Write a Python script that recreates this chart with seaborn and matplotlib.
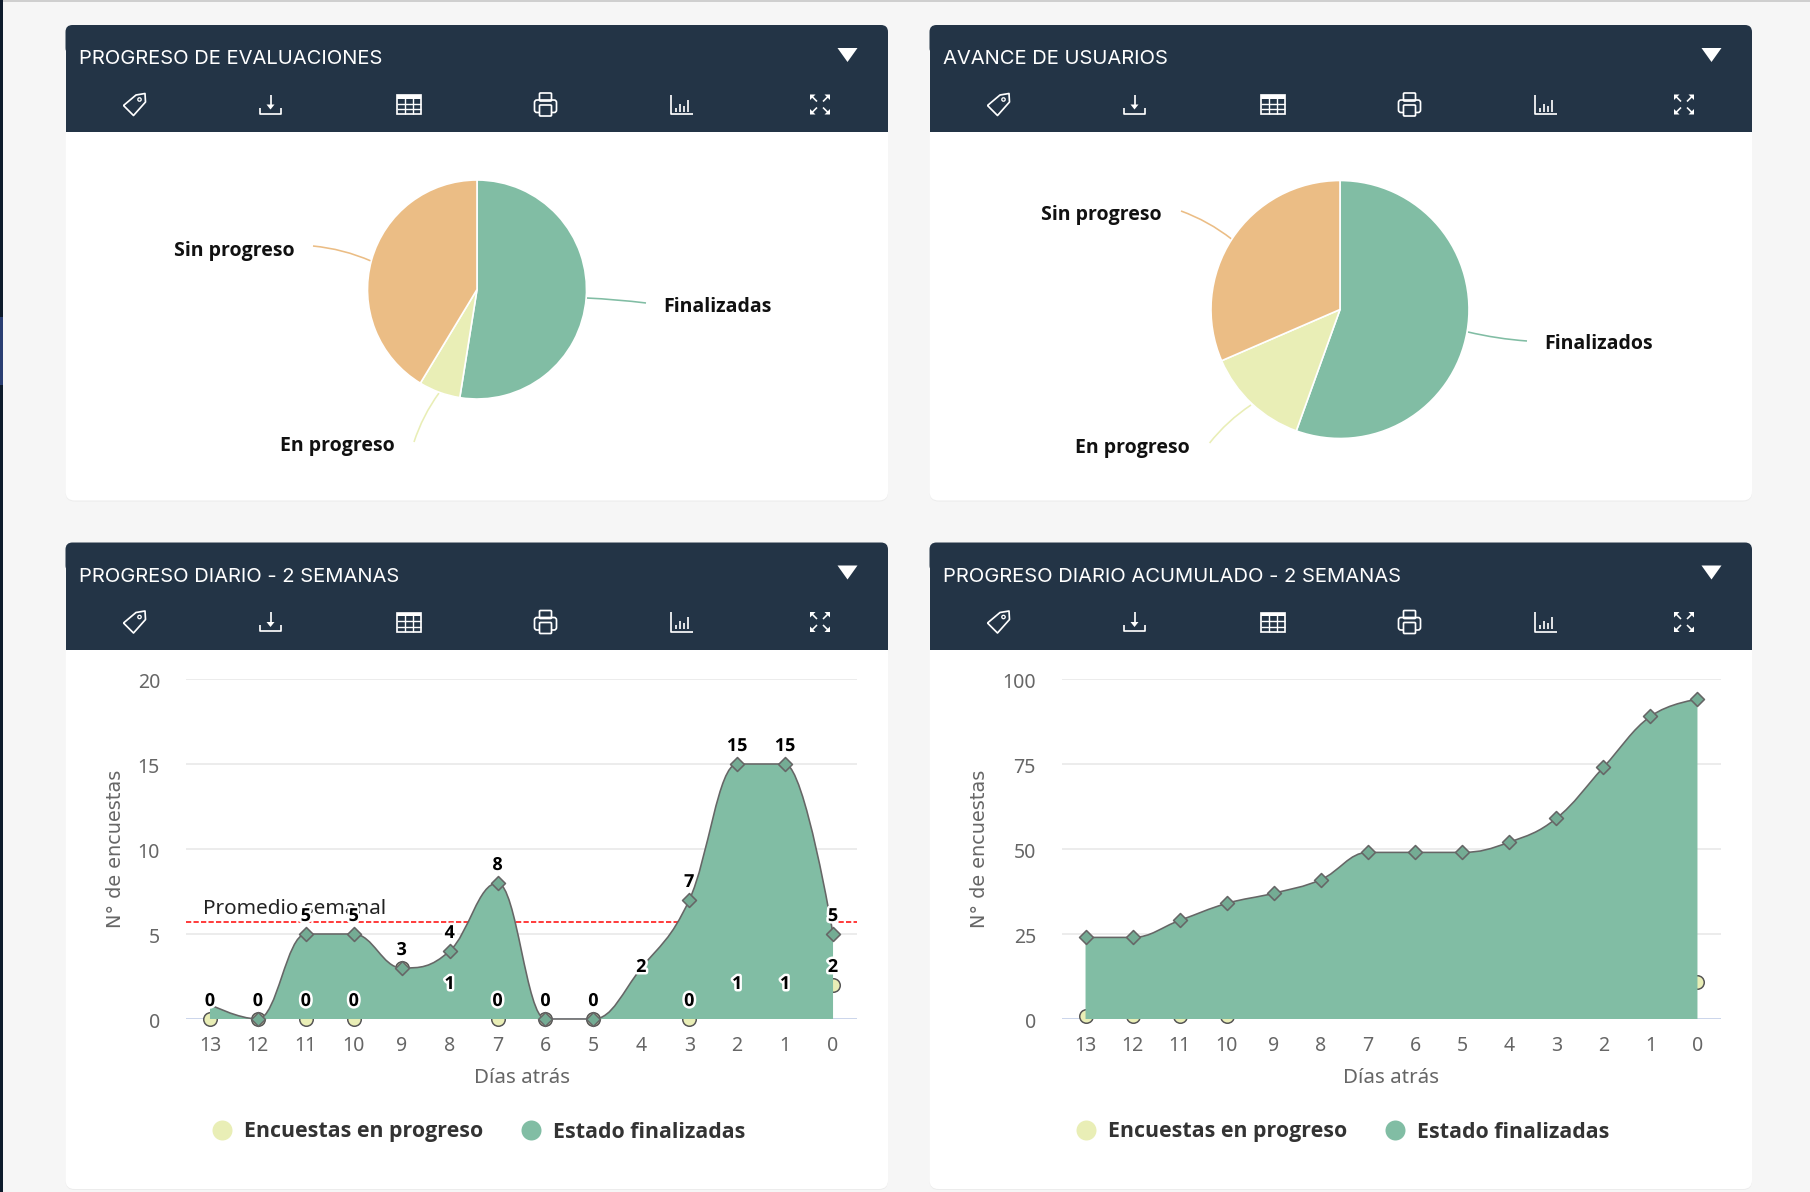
import matplotlib
matplotlib.use('Agg')
import matplotlib.pyplot as plt
from matplotlib.patches import FancyBboxPatch, Rectangle, Polygon, Circle, PathPatch
from matplotlib.path import Path
from matplotlib.lines import Line2D
from matplotlib.transforms import ScaledTranslation
import matplotlib.patheffects as pe
import numpy as np
import pandas as pd
import seaborn as sns

W, H = 1810, 1192
GREEN = '#81BDA4'
TAN = '#EBBD85'
PALE = '#E9EEB6'
NAVY = '#233446'
MARKER_GREEN = '#74AC94'
EDGE = '#666666'
BODY = 'Noto Sans'
BOLD = 'Open Sans'

# pies
pie1_labels = ['Finalizadas', 'En progreso', 'Sin progreso']
pie1_values = [94, 11, 74]
pie2_labels = ['Finalizados', 'En progreso', 'Sin progreso']
pie2_values = [111, 26, 63]

# line charts
days = ['13', '12', '11', '10', '9', '8', '7', '6', '5', '4', '3', '2', '1', '0']
daily_done = [0.85, 0, 5, 5, 3, 4, 8, 0, 0, 3, 7, 15, 15, 5]
daily_progress = [0, 0, 0, 0, 3, 1, 0, 0, 0, 2, 0, 1, 1, 2]
daily_done_labels = ['', '0', '5', '5', '3', '4', '8', '0', '0', '', '7', '15', '15', '5']
daily_progress_labels = ['0', '', '0', '0', '', '1', '0', '', '', '2', '0', '1', '1', '2']
daily_hidden = [0, 9]
cumul_done = [24, 24, 29, 34, 37, 41, 49, 49, 49, 52, 59, 74, 89, 94]
cumul_progress = [1, 1, 1, 1, 4, 5, 5, 5, 5, 7, 7, 8, 9, 11]
weekly_avg = 5.7

sns.set_theme(style='white')
plt.rcParams['font.family'] = [BODY, 'DejaVu Sans']

fig = plt.figure(figsize=(W / 100, H / 100), dpi=100, facecolor='#F6F6F6')


def px(v):
    return v * 0.72


def axes_px(x0, y0, x1, y1, **kw):
    return fig.add_axes([x0 / W, 1 - y1 / H, (x1 - x0) / W, (y1 - y0) / H], **kw)


bg = axes_px(0, 0, W, H)
bg.set_xlim(0, W)
bg.set_ylim(H, 0)
bg.axis('off')
bg.set_zorder(0)

# page edges
bg.add_patch(Rectangle((0, 0), W, 1.5, fc='#cfcfcf', ec='none'))
bg.add_patch(Rectangle((0, 0), 3, H, fc='#0E1B2C', ec='none'))
bg.add_patch(Rectangle((0, 317), 3, 68, fc='#2B3F73', ec='none'))


def stroke(pts, lw=1.7, color='white', closed=False):
    if closed:
        pts = list(pts) + [pts[0]]
    xs, ys = zip(*pts)
    bg.plot(xs, ys, color=color, lw=px(lw), solid_joinstyle='round', solid_capstyle='butt', zorder=4)


def box(x, y, w, h, r=0.0, fc='none', lw=1.7, ec='white'):
    bg.add_patch(FancyBboxPatch((x, y), w, h, boxstyle='round,pad=0,rounding_size=%s' % r,
                                fc=fc, ec=ec, lw=px(lw), zorder=4))


def tag_icon(cx, cy):
    pts = [(-11, 1), (1.5, -9.5), (10.5, -11), (11, -2.5), (-1, 11)]
    stroke([(cx + a, cy + b) for a, b in pts], closed=True)
    bg.add_patch(Circle((cx + 5, cy - 5), 1.7, fc='none', ec='white', lw=px(1.3), zorder=4))


def download_icon(cx, cy):
    stroke([(cx, cy - 10), (cx, cy + 2)])
    bg.add_patch(Polygon([(cx - 4, cy), (cx + 4, cy), (cx, cy + 5)], fc='white', ec='none', zorder=4))
    stroke([(cx - 10.5, cy + 3), (cx - 10.5, cy + 9), (cx + 10.5, cy + 9), (cx + 10.5, cy + 3)])


def table_icon(cx, cy):
    bg.add_patch(Rectangle((cx - 12, cy - 9.5), 24, 19, fc='none', ec='white', lw=px(1.7), zorder=4))
    bg.add_patch(Rectangle((cx - 12, cy - 9.5), 24, 3.5, fc='white', ec='none', zorder=4))
    for dx in (-4, 4):
        stroke([(cx + dx, cy - 9.5), (cx + dx, cy + 9.5)], lw=1.4)
    for dy in (-1, 4.5):
        stroke([(cx - 12, cy + dy), (cx + 12, cy + dy)], lw=1.4)


def printer_icon(cx, cy):
    box(cx - 6, cy - 11.5, 12, 8, r=1)
    box(cx - 11, cy - 4.5, 22, 12.5, r=2.5)
    box(cx - 6, cy + 0.5, 12, 11, r=1, fc=NAVY)


def chart_icon(cx, cy):
    stroke([(cx - 10.5, cy - 10), (cx - 10.5, cy + 9.5), (cx + 11, cy + 9.5)])
    for dx, top in zip((-6, -2, 2, 6.5), (3, -1, 1, -5)):
        stroke([(cx + dx, cy + 7), (cx + dx, cy + top)], lw=1.7)


def expand_icon(cx, cy):
    for sx in (-1, 1):
        for sy in (-1, 1):
            stroke([(cx + sx * 3, cy + sy * 3), (cx + sx * 9, cy + sy * 9)], lw=1.6)
            bg.add_patch(Polygon([(cx + sx * 10, cy + sy * 10), (cx + sx * 4.5, cy + sy * 10),
                                  (cx + sx * 10, cy + sy * 4.5)], fc='white', ec='none', zorder=4))


def panel(x0, y0, x1, y1, head_y1, title):
    bg.add_patch(FancyBboxPatch((x0, y0 + 1), x1 - x0, y1 - y0, boxstyle='round,pad=0,rounding_size=9',
                                fc='#ECECEC', ec='none', zorder=1))
    bg.add_patch(FancyBboxPatch((x0, y0), x1 - x0, y1 - y0, boxstyle='round,pad=0,rounding_size=9',
                                fc='white', ec='none', zorder=1))
    bg.add_patch(FancyBboxPatch((x0, y0), x1 - x0, 30, boxstyle='round,pad=0,rounding_size=7',
                                fc=NAVY, ec='none', zorder=2))
    bg.add_patch(Rectangle((x0, y0 + 14), x1 - x0, head_y1 - y0 - 14, fc=NAVY, ec='none', zorder=2))
    bg.text(x0 + 13.5, y0 + 34, title, color='white', fontsize=px(20.2), family='Inter',
            va='center', ha='left', zorder=4)
    bg.add_patch(Polygon([(x0 + 772, y0 + 23), (x0 + 792, y0 + 23), (x0 + 782, y0 + 37)],
                         fc='white', ec='none', zorder=4))
    icons = [tag_icon, download_icon, table_icon, printer_icon, chart_icon, expand_icon]
    for icon, dx in zip(icons, (69, 205, 343.5, 480, 616, 754.5)):
        icon(x0 + dx, y0 + 79.5)


def draw_pie(cx, cy, r, values):
    ax = axes_px(cx - r, cy - r, cx + r, cy + r)
    ax.set_zorder(2)
    colors = [GREEN, PALE, TAN]
    ax.pie(values, colors=colors, startangle=90, counterclock=False, radius=1,
           wedgeprops={'edgecolor': 'white', 'linewidth': 1.2}, frame=True)
    ax.set_xlim(-1, 1)
    ax.set_ylim(-1, 1)
    ax.axis('off')
    for w in ax.patches:
        w.set_clip_on(False)


def connector(p0, p1, color, bend=0.08):
    # slightly bent leader line
    mid = ((p0[0] + p1[0]) / 2 + (p1[1] - p0[1]) * bend, (p0[1] + p1[1]) / 2 - (p1[0] - p0[0]) * bend)
    bg.add_patch(PathPatch(Path([p0, mid, p1], [Path.MOVETO, Path.CURVE3, Path.CURVE3]),
                           fc='none', ec=color, lw=px(1.6), zorder=3))


def pie_label(x, y, s):
    bg.text(x, y, s, fontsize=px(19.5), fontweight='bold', family=BOLD, color='#111111',
            ha='center', va='center', zorder=4)


def spline_path(xs, ys):
    # bezier controls in the way of a highcharts spline
    n = len(xs)
    left = [(xs[i], ys[i]) for i in range(n)]
    right = [(xs[i], ys[i]) for i in range(n)]
    for i in range(1, n - 1):
        x, y = xs[i], ys[i]
        lx, ly = (1.5 * x + xs[i - 1]) / 2.5, (1.5 * y + ys[i - 1]) / 2.5
        rx, ry = (1.5 * x + xs[i + 1]) / 2.5, (1.5 * y + ys[i + 1]) / 2.5
        corr = (ry - ly) * (rx - x) / (rx - lx) + y - ry
        ly += corr
        ry += corr
        if ly > ys[i - 1] and ly > y:
            ly = max(ys[i - 1], y)
            ry = 2 * y - ly
        elif ly < ys[i - 1] and ly < y:
            ly = min(ys[i - 1], y)
            ry = 2 * y - ly
        if ry > ys[i + 1] and ry > y:
            ry = max(ys[i + 1], y)
            ly = 2 * y - ry
        elif ry < ys[i + 1] and ry < y:
            ry = min(ys[i + 1], y)
            ly = 2 * y - ry
        left[i] = (lx, ly)
        right[i] = (rx, ry)
    verts = [(xs[0], ys[0])]
    codes = [Path.MOVETO]
    for i in range(n - 1):
        verts += [right[i], left[i + 1], (xs[i + 1], ys[i + 1])]
        codes += [Path.CURVE4] * 3
    return verts, codes


def line_chart(x0, x1, ymax, done, progress, legend_x, done_labels=None, progress_labels=None, avg=None, hidden=()):
    ax = axes_px(x0, 679, x1, 1019)
    ax.set_zorder(2)
    ax.patch.set_alpha(0)
    pos = np.arange(len(days))
    df = pd.DataFrame({'pos': pos, 'done': done, 'progress': progress})
    ax.set_xlim(-0.5, 13.5)
    ax.set_ylim(0, ymax)
    ax.set_yticks(np.linspace(0, ymax, 5))
    ax.set_yticklabels(['%d' % v for v in np.linspace(0, ymax, 5)])
    ax.set_xticks(pos)
    ax.set_xticklabels(days)
    ax.grid(axis='y', color='#E6E6E6', lw=px(1.5))
    ax.grid(axis='x', visible=False)
    ax.set_axisbelow(True)
    sns.despine(ax=ax, left=True, bottom=True)
    ax.tick_params(axis='both', length=0, labelsize=px(19.5), labelcolor='#666666')
    ax.tick_params(axis='x', pad=px(17))
    ax.tick_params(axis='y', pad=px(26))
    for lab in ax.get_yticklabels():
        lab.set_transform(lab.get_transform() + ScaledTranslation(0, -px(1.5) / 72, fig.dpi_scale_trans))
    ax.axhline(0, color='#CCD6EB', lw=px(2), zorder=1.5)

    if avg is not None:
        ax.axhline(avg, color='red', lw=px(1.5), ls=(0, (3.5, 1.5)), zorder=1.8)
        ax.annotate('Promedio semanal', (-0.15, avg), xytext=(0, px(13)), textcoords='offset points',
                    fontsize=px(20.8), color='#222222', ha='left', va='center', zorder=2)

    sns.scatterplot(data=df, x='pos', y='progress', ax=ax, s=95, color=PALE, edgecolor='#555555',
                    linewidth=px(1.5), legend=False, zorder=2.5, clip_on=False)

    verts, codes = spline_path(pos.tolist(), list(done))
    fill_verts = verts + [(pos[-1], 0), (pos[0], 0), (pos[0], done[0])]
    fill_codes = codes + [Path.LINETO, Path.LINETO, Path.CLOSEPOLY]
    ax.add_patch(PathPatch(Path(fill_verts, fill_codes), fc=GREEN, ec='none', zorder=3))
    ax.add_patch(PathPatch(Path(verts, codes), fc='none', ec=EDGE, lw=px(1.6), zorder=3.2, clip_on=False))

    marked = df.drop(index=list(hidden))
    sns.scatterplot(data=marked, x='pos', y='done', ax=ax, marker='D', s=50, color=MARKER_GREEN,
                    edgecolor=EDGE, linewidth=px(1.6), legend=False, zorder=3.5, clip_on=False)
    ax.set_xlabel('')
    ax.set_ylabel('')

    halo = [pe.withStroke(linewidth=px(5), foreground='white')]
    for vals, labs in ((done, done_labels), (progress, progress_labels)):
        if not labs:
            continue
        for p, v, s in zip(pos, vals, labs):
            if s:
                ax.annotate(s, (p, v), xytext=(0, px(18)), textcoords='offset points', ha='center', va='center',
                            fontsize=px(18), fontweight='bold', family=BOLD, color='black', path_effects=halo, zorder=5)

    handles = [Line2D([], [], ls='', marker='o', ms=px(20), mfc=PALE, mec='none'),
               Line2D([], [], ls='', marker='o', ms=px(20), mfc=GREEN, mec='none')]
    leg = ax.legend(handles, ['Encuestas en progreso', 'Estado finalizadas'], ncol=2, frameon=False,
                    loc='center', bbox_to_anchor=(legend_x, 1132), bbox_transform=bg.transData,
                    prop={'size': px(21.4), 'weight': 'bold', 'family': BOLD}, handletextpad=0.0, columnspacing=1.25)
    for t in leg.get_texts():
        t.set_color('#333333')
    return ax


panel(65.5, 25, 888, 500.5, 132, 'PROGRESO DE EVALUACIONES')
panel(929.5, 25, 1752, 500.5, 132, 'AVANCE DE USUARIOS')
panel(65.5, 542.5, 888, 1189, 649.5, 'PROGRESO DIARIO - 2 SEMANAS')
panel(929.5, 542.5, 1752, 1189, 649.5, 'PROGRESO DIARIO ACUMULADO - 2 SEMANAS')

draw_pie(477, 289.5, 109.5, pie1_values)
draw_pie(1340, 309.5, 129, pie2_values)

connector((313, 246), (371, 261), TAN)
connector((414, 442), (439, 393), PALE)
connector((586.5, 298), (646, 303), GREEN, bend=0.02)
connector((1181, 211), (1231.5, 239), TAN)
connector((1209.6, 443), (1251, 405), PALE)
connector((1468, 332), (1527, 341), GREEN, bend=-0.04)

pie_label(234, 251, pie1_labels[2])
pie_label(337, 446, pie1_labels[1])
pie_label(717, 307, pie1_labels[0])
pie_label(1101, 215, pie2_labels[2])
pie_label(1132, 448, pie2_labels[1])
pie_label(1599, 344, pie2_labels[0])

line_chart(186, 857, 20, daily_done, daily_progress, 473, daily_done_labels, daily_progress_labels, weekly_avg, daily_hidden)
line_chart(1062, 1721, 100, cumul_done, cumul_progress, 1337)

for yx, xx in ((115, 522), (979, 1391)):
    bg.text(xx, 1078, 'Días atrás', fontsize=px(20.5), color='#666666', ha='center', va='center')
    bg.text(yx, 849, 'N° de encuestas', fontsize=px(19.3), color='#666666', rotation=90,
            ha='center', va='center', family='DejaVu Sans')

fig.savefig('out.png', dpi=100, facecolor=fig.get_facecolor())
